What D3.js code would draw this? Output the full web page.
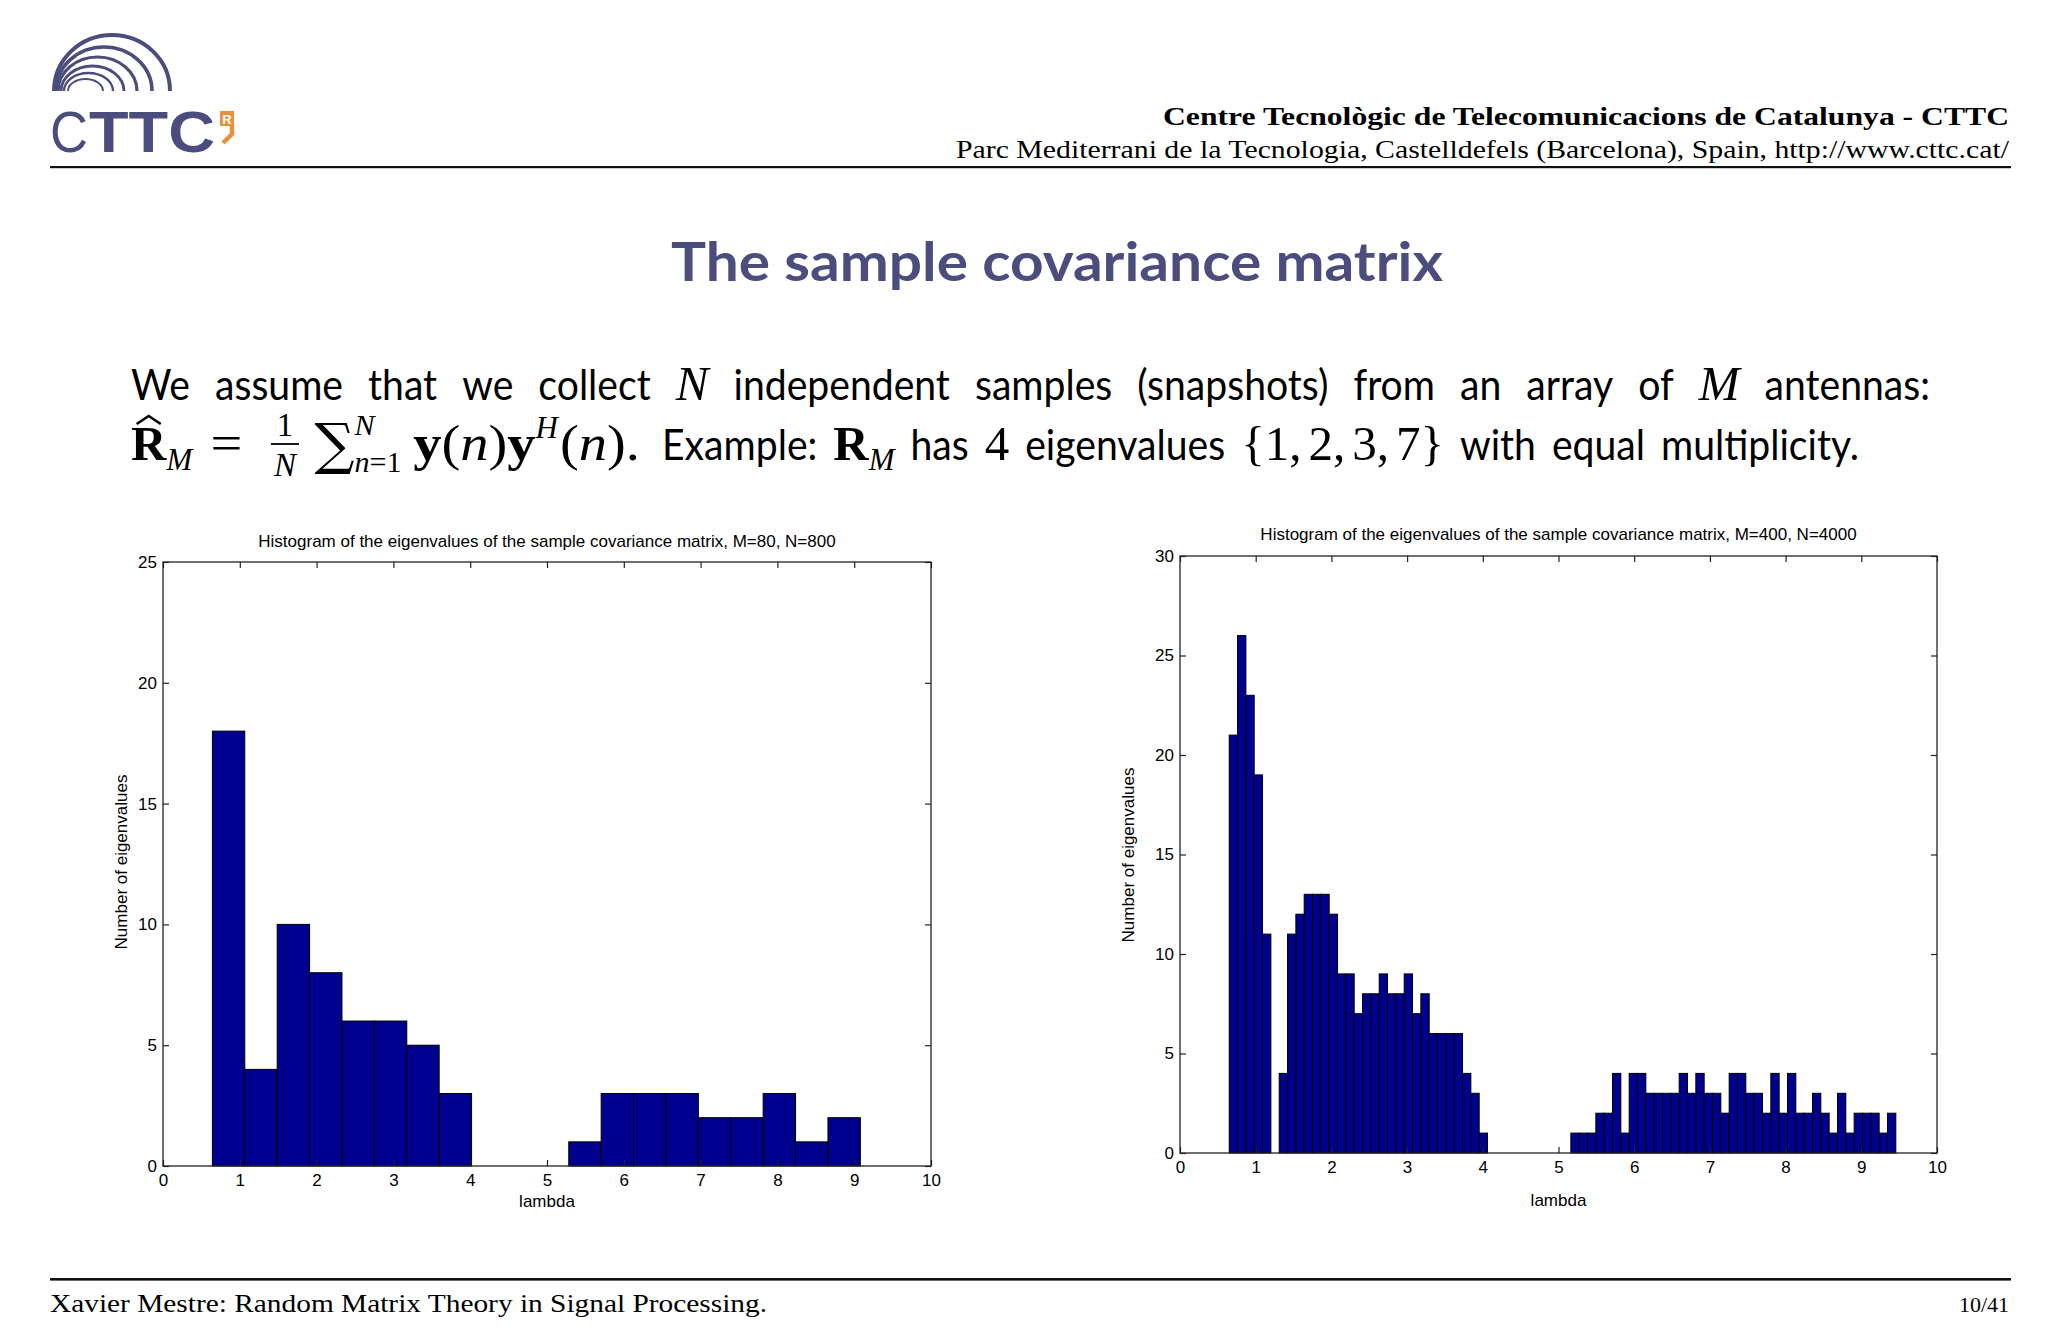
<!DOCTYPE html>
<html><head><meta charset="utf-8">
<script src="https://cdn.jsdelivr.net/npm/d3@7"></script>
<style>body{margin:0;background:#fff}</style>
</head><body>
<svg id="c" width="2048" height="1340" xmlns="http://www.w3.org/2000/svg"></svg>
<script>
// ---------------- DATA ----------------
const leftCounts = [18,4,10,8,6,6,5,3,0,0,0,1,3,3,3,2,2,3,1,2];
const leftRange = [0.643, 9.08];          // min / max eigenvalue (hist edges)
const rightCounts = [21,26,23,19,11,0,4,11,12,13,13,13,12,9,9,7,8,8,9,8,8,9,7,8,6,6,6,6,4,3,1,
  0,0,0,0,0,0,0,0,0,0,
  1,1,1,2,2,4,1,4,4,3,3,3,3,4,3,4,3,3,2,4,4,3,3,2,4,2,4,2,2,3,2,1,3,1,2,2,2,1,2];
const rightRange = [0.65, 9.456];
const xTicks = [0,1,2,3,4,5,6,7,8,9,10];
const leftYTicks = [0,5,10,15,20,25];
const rightYTicks = [0,5,10,15,20,25,30];
const leftTitle = "Histogram of the eigenvalues of the sample covariance matrix, M=80, N=800";
const rightTitle = "Histogram of the eigenvalues of the sample covariance matrix, M=400, N=4000";
const xLabel = "lambda";
const yLabel = "Number of eigenvalues";
const headerLine1 = "Centre Tecnològic de Telecomunicacions de Catalunya - CTTC";
const headerLine2 = "Parc Mediterrani de la Tecnologia, Castelldefels (Barcelona), Spain, http://www.cttc.cat/";
const slideTitle = "The sample covariance matrix";
const footerLeft = "Xavier Mestre: Random Matrix Theory in Signal Processing.";
const footerRight = "10/41";

// ---------------- SETUP ----------------
const svg = d3.select('#c');
svg.append('rect').attr('width',2048).attr('height',1340).attr('fill','#fff');
const navy = '#4b4e7d';

// ---------------- LOGO ----------------
const logo = svg.append('g');
const arcs = [[54,170,35,4],[56,152,47,3.6],[58,137,57,3.2],[61,124,66,2.8],[64,113,73,2.4],[68,103,79,2]];
arcs.forEach(([x1,x2,top,sw])=>{
  const rx=(x2-x1)/2, ry=91-top;
  logo.append('path').attr('d',`M${x1},91 A${rx},${ry} 0 0 1 ${x2},91`)
    .attr('fill','none').attr('stroke',navy).attr('stroke-width',sw);
});
logo.append('text').attr('x',50).attr('y',152).attr('font-family','Liberation Sans').attr('font-size',57)
  .attr('fill',navy).attr('textLength',38).attr('lengthAdjust','spacingAndGlyphs').text('C');
logo.append('text').attr('x',89).attr('y',152).attr('font-family','Liberation Sans').attr('font-weight','bold').attr('font-size',57)
  .attr('fill',navy).attr('textLength',126).attr('lengthAdjust','spacingAndGlyphs').text('TTC');
logo.append('rect').attr('x',220).attr('y',111).attr('width',14).attr('height',15).attr('fill','#e8913a');
logo.append('text').attr('x',227).attr('y',123.5).attr('text-anchor','middle').attr('font-family','Liberation Sans')
  .attr('font-weight','bold').attr('font-size',13).attr('fill','#fff').text('R');
logo.append('path').attr('d','M232,126 L232,134 L223,143').attr('fill','none').attr('stroke','#e8913a').attr('stroke-width',4.5);

// ---------------- HEADER ----------------
svg.append('text').attr('x',2009).attr('y',125).attr('text-anchor','end').attr('font-family','Liberation Serif')
  .attr('font-weight','bold').attr('font-size',26).attr('textLength',846).attr('lengthAdjust','spacingAndGlyphs').text(headerLine1);
svg.append('text').attr('x',2009).attr('y',158).attr('text-anchor','end').attr('font-family','Liberation Serif')
  .attr('font-size',26).attr('textLength',1053).attr('lengthAdjust','spacingAndGlyphs').text(headerLine2);
svg.append('rect').attr('x',50).attr('y',166).attr('width',1961).attr('height',2.2).attr('fill','#111');

// ---------------- TITLE ----------------
svg.append('text').attr('x',1057).attr('y',281).attr('text-anchor','middle').attr('font-family','Lato')
  .attr('font-weight','bold').attr('font-size',53).attr('fill',navy).attr('textLength',772)
  .attr('lengthAdjust','spacingAndGlyphs').text(slideTitle);

// ---------------- BODY TEXT ----------------
const fSans = {family:'Lato', size:43, sx:0.91};
const fSer = {family:'Liberation Serif', size:49};
const fSerI = {family:'Liberation Serif', size:49, style:'italic'};
const fSerB = {family:'Liberation Serif', size:49, weight:'bold'};
const fSerW = {family:'Liberation Serif', size:50, sx:1.13};
const fSm = {family:'Liberation Serif', size:31};
const fSmI = {family:'Liberation Serif', size:31, style:'italic'};
const fFr = {family:'Liberation Serif', size:33};
const fFrI = {family:'Liberation Serif', size:33, style:'italic'};
const fSc = {family:'Liberation Serif', size:30};
const fScI = {family:'Liberation Serif', size:30, style:'italic'};
const fSum = {family:'DejaVu Serif', size:56};

function runText(g, r){
  const t = g.append('text').attr('y', r.dy||0);
  r.parts.forEach(p=>{
    t.append('tspan').attr('font-family',p.f.family).attr('font-size',p.f.size)
      .attr('font-style',p.st||p.f.style||'normal').attr('font-weight',p.wt||p.f.weight||'normal').text(p.t);
  });
  return t;
}
function flowLine(parent, pieces, x0, y, target){
  const items = pieces.map(p=>{
    if (p.gap) return {gap:true, wt:p.wt||1};
    if (p.kern!==undefined) return {w:p.kern};
    const g = parent.append('g');
    let w;
    if (p.stack){
      const ws = p.stack.map(r=>{const t=runText(g,r); return [t,t.node().getComputedTextLength()];});
      w = d3.max(ws,d=>d[1]);
      const pad = p.pad||0;
      if (p.align==='center') ws.forEach(([t,tw])=>t.attr('x',pad+(w-tw)/2));
      if (p.rule!==undefined) g.append('line').attr('x1',0).attr('x2',w+2*pad).attr('y1',p.rule).attr('y2',p.rule)
        .attr('stroke','#000').attr('stroke-width',1.8);
      w += 2*pad;
    } else {
      const t = runText(g,p); w = t.node().getComputedTextLength();
      const sx = p.parts[0].f.sx;
      if (sx) { t.attr('transform',`scale(${sx},1)`); w *= sx; }
      if (p.hat) g.append('path').attr('d',`M${w*0.16},-36 L${w*0.5},-44 L${w*0.84},-36`)
        .attr('fill','none').attr('stroke','#000').attr('stroke-width',2.6);
    }
    return {g,w};
  });
  const fixed = d3.sum(items.filter(d=>!d.gap),d=>d.w);
  const wsum = d3.sum(items.filter(d=>d.gap),d=>d.wt);
  const unit = (target-fixed)/wsum;
  let x = x0;
  items.forEach(d=>{ if(d.gap) x+=unit*d.wt; else { if(d.g) d.g.attr('transform',`translate(${x},${y})`); x+=d.w; } });
}
const W = t=>({parts:[{t,f:fSans}]});
const P = (t,f)=>({parts:[{t,f}]});
const G = {gap:true};
const body = svg.append('g');
const line1 = [];
["We","assume","that","we","collect","#N","independent","samples","(snapshots)","from","an","array","of","#M","antennas:"]
  .forEach((w,i)=>{ if(i) line1.push(G); line1.push(w[0]==='#'?P(w.slice(1),fSerI):W(w)); });
flowLine(body, line1, 131, 400, 1799);

// math part of line 2
const line2math = [
  {parts:[{t:'R',f:fSerB}], hat:true},
  {parts:[{t:'M',f:fSmI}], dy:10},
  {gap:true, wt:0.7}, P('=',fSerW), {gap:true, wt:1.1},
  {stack:[{parts:[{t:'1',f:fFr}],dy:-24},{parts:[{t:'N',f:fFrI}],dy:16}], align:'center', rule:-16, pad:3},
  {gap:true, wt:0.6},
  {parts:[{t:'∑',f:fSum}], dy:3},
  {stack:[{parts:[{t:'N',f:fScI}],dy:-25},{parts:[{t:'n',f:fScI},{t:'=1',f:fSc}],dy:12}], align:'left'},
  {gap:true, wt:0.45},
  {parts:[{t:'y',f:fSerW,wt:'bold'},{t:'(',f:fSerW},{t:'n',f:fSerW,st:'italic'},{t:')',f:fSerW},{t:'y',f:fSerW,wt:'bold'}]},
  {parts:[{t:'H',f:fSmI}], dy:-22},
  {kern:2},
  {parts:[{t:'(',f:fSerW},{t:'n',f:fSerW,st:'italic'},{t:').',f:fSerW}]}
];
flowLine(body, line2math, 131, 460, 509);
// text part of line 2
const line2text = [
  W('Example:'), G,
  P('R',fSerB), {parts:[{t:'M',f:fSmI}], dy:10},
  G, W('has'), G, P('4',fSer), G, W('eigenvalues'), G,
  P('{1,',fSer), {kern:7}, P('2,',fSer), {kern:7}, P('3,',fSer), {kern:7}, P('7}',fSer),
  G, W('with'), G, W('equal'), G, W('multiplicity.')
];
flowLine(body, line2text, 662, 460, 1197);

// ---------------- HISTOGRAMS ----------------
const FS = 17;
function drawHist(c){
  const g = svg.append('g');
  const x = d3.scaleLinear().domain([0,10]).range([c.left,c.right]);
  const y = d3.scaleLinear().domain([0,c.yMax]).range([c.bottom,c.top]);
  const n = c.counts.length;
  const w = (c.range[1]-c.range[0])/n;
  const bins = c.counts.map((v,i)=>({x0:c.range[0]+i*w, x1:c.range[0]+(i+1)*w, v}));
  g.append('g').selectAll('rect').data(bins.filter(b=>b.v>0)).join('rect')
    .attr('x',d=>x(d.x0)).attr('width',d=>x(d.x1)-x(d.x0))
    .attr('y',d=>y(d.v)).attr('height',d=>y(0)-y(d.v))
    .attr('fill','#00008f').attr('stroke','#000').attr('stroke-width',1);
  const font = 'Liberation Sans';
  const style = sel=>{ sel.select('.domain').remove();
    sel.selectAll('line').attr('stroke','#222').attr('stroke-width',1.2);
    sel.selectAll('text').attr('font-family',font).attr('font-size',FS).attr('fill','#000'); };
  g.append('g').attr('transform',`translate(0,${c.bottom})`)
    .call(d3.axisBottom(x).tickValues(xTicks).tickFormat(d3.format('d')).tickSize(-6).tickPadding(8)).call(style);
  g.append('g').attr('transform',`translate(0,${c.top})`)
    .call(d3.axisTop(x).tickValues(xTicks).tickFormat('').tickSize(-6)).call(style);
  g.append('g').attr('transform',`translate(${c.left},0)`)
    .call(d3.axisLeft(y).tickValues(c.yTicks).tickFormat(d3.format('d')).tickSize(-6).tickPadding(6)).call(style);
  g.append('g').attr('transform',`translate(${c.right},0)`)
    .call(d3.axisRight(y).tickValues(c.yTicks).tickFormat('').tickSize(-6)).call(style);
  g.append('rect').attr('x',c.left).attr('y',c.top).attr('width',c.right-c.left).attr('height',c.bottom-c.top)
    .attr('fill','none').attr('stroke','#222').attr('stroke-width',1.3);
  const cx = (c.left+c.right)/2;
  g.append('text').attr('x',cx).attr('y',c.titleY).attr('text-anchor','middle').attr('font-family',font)
    .attr('font-size',FS).text(c.title);
  g.append('text').attr('x',cx).attr('y',c.xlabelY).attr('text-anchor','middle').attr('font-family',font)
    .attr('font-size',FS).text(xLabel);
  g.append('text').attr('transform',`translate(${c.ylabelX},${c.ylabelCY}) rotate(-90)`).attr('text-anchor','middle')
    .attr('font-family',font).attr('font-size',FS).attr('dy','0.35em').text(yLabel);
}
drawHist({left:163,right:931,top:562,bottom:1166,yMax:25,yTicks:leftYTicks,counts:leftCounts,range:leftRange,
  title:leftTitle,titleY:547,xlabelY:1207,ylabelX:121,ylabelCY:862});
drawHist({left:1180,right:1937,top:556,bottom:1153,yMax:30,yTicks:rightYTicks,counts:rightCounts,range:rightRange,
  title:rightTitle,titleY:540,xlabelY:1206,ylabelX:1128,ylabelCY:855});

// ---------------- FOOTER ----------------
svg.append('rect').attr('x',50).attr('y',1278).attr('width',1961).attr('height',2.6).attr('fill','#111');
svg.append('text').attr('x',50).attr('y',1312).attr('font-family','Liberation Serif').attr('font-size',25)
  .attr('textLength',717).attr('lengthAdjust','spacingAndGlyphs').text(footerLeft);
svg.append('text').attr('x',2009).attr('y',1312).attr('text-anchor','end').attr('font-family','Liberation Serif')
  .attr('font-size',22).text(footerRight);
</script>
</body></html>
